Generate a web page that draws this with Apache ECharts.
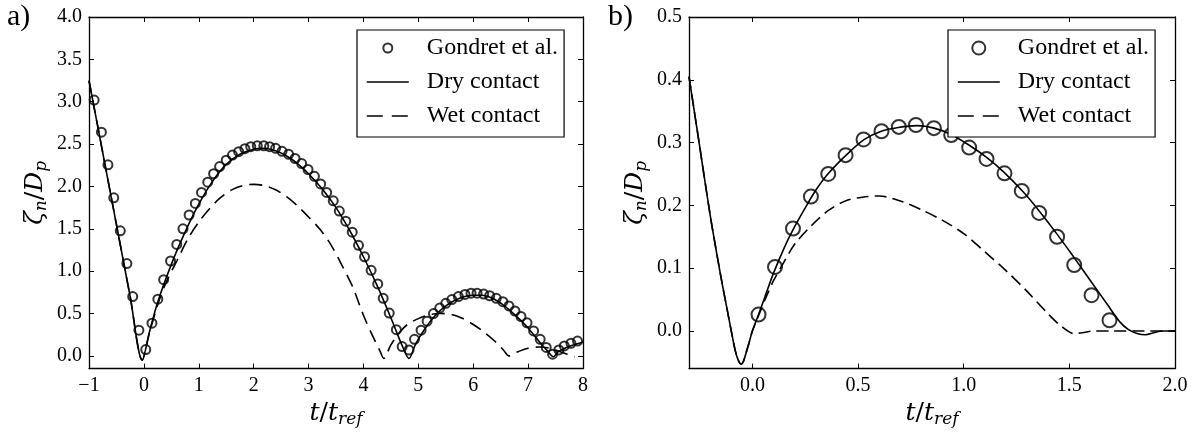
<!DOCTYPE html>
<html><head><meta charset="utf-8">
<script src="https://cdn.jsdelivr.net/npm/echarts@6/dist/echarts.min.js"></script>
<style>html,body{margin:0;padding:0;background:#fff}#c{width:1204px;height:433px}</style>
</head><body><div id="c"></div>
<script>
// ---------- data ----------
const gondretA = [[-0.906,3.02],[-0.774,2.64],[-0.655,2.255],[-0.549,1.866],[-0.43,1.476],[-0.31,1.09],[-0.204,0.70],[-0.091,0.304],[0.034,0.074],[0.147,0.386],[0.254,0.67],[0.36,0.90],[0.486,1.12],[0.599,1.316],[0.712,1.50],[0.824,1.663],[0.937,1.80],[1.05,1.93],[1.163,2.05],[1.27,2.15],[1.38,2.235],[1.50,2.31],[1.614,2.37],[1.727,2.41],[1.84,2.446],[1.947,2.47],[2.066,2.48],[2.185,2.48],[2.29,2.47],[2.40,2.45],[2.517,2.415],[2.636,2.38],[2.755,2.33],[2.875,2.27],[2.99,2.20],[3.107,2.12],[3.22,2.03],[3.33,1.93],[3.45,1.83],[3.56,1.71],[3.677,1.59],[3.796,1.46],[3.91,1.305],[4.02,1.17],[4.14,1.01],[4.26,0.85],[4.36,0.68],[4.47,0.506],[4.60,0.31],[4.705,0.11],[4.83,0.07],[4.93,0.195],[5.05,0.304],[5.16,0.41],[5.276,0.50],[5.39,0.565],[5.50,0.62],[5.61,0.665],[5.73,0.70],[5.85,0.725],[5.96,0.74],[6.07,0.74],[6.19,0.73],[6.30,0.71],[6.42,0.68],[6.54,0.64],[6.65,0.59],[6.76,0.53],[6.87,0.465],[6.98,0.39],[7.10,0.295],[7.22,0.195],[7.33,0.10],[7.445,0.02],[7.56,0.07],[7.66,0.117],[7.78,0.148],[7.90,0.175]];
const dryA = [[-1,3.25],[-0.75,2.4],[-0.5,1.55],[-0.25,0.7],[-0.03,-0.05],[0.1,0.28],[0.25,0.63],[0.5,1.08],[0.75,1.46],[1.0,1.79],[1.25,2.06],[1.5,2.26],[1.75,2.38],[2.0,2.44],[2.2,2.45],[2.4,2.42],[2.6,2.36],[2.8,2.27],[3.0,2.15],[3.25,1.97],[3.5,1.75],[3.75,1.48],[4.0,1.17],[4.25,0.83],[4.5,0.45],[4.7,0.13],[4.83,-0.03],[4.95,0.14],[5.1,0.3],[5.3,0.47],[5.5,0.59],[5.75,0.68],[6.0,0.715],[6.15,0.715],[6.35,0.68],[6.55,0.6],[6.75,0.49],[7.0,0.33],[7.2,0.17],[7.35,0.06],[7.46,-0.01],[7.55,0.05],[7.7,0.1],[7.85,0.135],[8.0,0.16]];
const wetA = [[-1,3.25],[-0.75,2.4],[-0.5,1.55],[-0.25,0.7],[-0.03,-0.05],[0.1,0.27],[0.25,0.6],[0.4,0.86],[0.6,1.12],[0.8,1.38],[1.0,1.58],[1.2,1.74],[1.4,1.87],[1.6,1.96],[1.8,2.01],[2.0,2.025],[2.2,2.01],[2.4,1.96],[2.6,1.88],[2.8,1.77],[3.0,1.64],[3.2,1.5],[3.4,1.32],[3.6,1.08],[3.8,0.82],[4.0,0.48],[4.15,0.26],[4.3,0.06],[4.37,-0.03],[4.5,0.13],[4.65,0.27],[4.8,0.37],[5.0,0.44],[5.2,0.485],[5.4,0.5],[5.6,0.49],[5.8,0.445],[6.0,0.37],[6.2,0.28],[6.4,0.17],[6.55,0.07],[6.65,0.0],[6.8,0.045],[7.0,0.09],[7.2,0.105],[7.4,0.09],[7.6,0.045],[7.8,0.0],[7.85,-0.01]];

const gondretB = [[0.029,0.026],[0.107,0.102],[0.192,0.163],[0.277,0.214],[0.359,0.250],[0.441,0.280],[0.526,0.305],[0.611,0.318],[0.693,0.325],[0.774,0.328],[0.859,0.323],[0.941,0.312],[1.026,0.292],[1.108,0.274],[1.193,0.251],[1.275,0.223],[1.357,0.188],[1.442,0.150],[1.523,0.105],[1.605,0.057],[1.690,0.017]];
const dryB = [[-0.3,0.405],[-0.25,0.295],[-0.2,0.185],[-0.15,0.088],[-0.12,0.035],[-0.1,0.0],[-0.08,-0.033],[-0.065,-0.048],[-0.053,-0.053],[-0.042,-0.048],[-0.03,-0.035],[-0.015,-0.018],[0.0,0.0],[0.03,0.027],[0.06,0.055],[0.1,0.092],[0.15,0.132],[0.2,0.166],[0.25,0.196],[0.3,0.224],[0.36,0.251],[0.45,0.282],[0.53,0.305],[0.61,0.318],[0.69,0.324],[0.78,0.327],[0.86,0.323],[0.94,0.313],[1.03,0.295],[1.11,0.276],[1.19,0.253],[1.28,0.222],[1.36,0.19],[1.44,0.155],[1.52,0.118],[1.6,0.08],[1.68,0.042],[1.74,0.014],[1.78,0.002],[1.82,-0.004],[1.86,-0.006],[1.9,-0.003],[1.94,0.0],[2.0,0.0]];
const wetB = [[-0.3,0.405],[-0.25,0.295],[-0.2,0.185],[-0.15,0.088],[-0.12,0.035],[-0.1,0.0],[-0.08,-0.033],[-0.065,-0.048],[-0.053,-0.053],[-0.042,-0.048],[-0.03,-0.035],[-0.015,-0.018],[0.0,0.0],[0.03,0.025],[0.06,0.05],[0.1,0.08],[0.15,0.11],[0.2,0.138],[0.28,0.168],[0.36,0.192],[0.44,0.207],[0.52,0.213],[0.6,0.215],[0.7,0.207],[0.8,0.193],[0.9,0.176],[1.0,0.155],[1.1,0.126],[1.2,0.096],[1.3,0.063],[1.4,0.027],[1.46,0.008],[1.52,-0.004],[1.56,-0.003],[1.62,0.0],[1.7,0.0],[2.0,0.0]];

const xTicksA = [-1,0,1,2,3,4,5,6,7,8];
const yTicksA = [0,0.5,1,1.5,2,2.5,3,3.5,4];
const xTicksB = [0,0.5,1,1.5,2];
const yTicksB = [0,0.1,0.2,0.3,0.4,0.5];
const names = ['Gondret et al.','Dry contact','Wet contact'];

// ---------- styling ----------
const SERIF = '"Liberation Serif", "DejaVu Serif", serif';
const MATH = '"DejaVu Serif", "Liberation Serif", serif';
const tickFont = {color:'#000', fontFamily: SERIF, fontSize: 20};
const minus = v => (v < 0 ? '\u2212' + Math.abs(v) : String(v));
const fix1 = v => (v < 0 ? '\u2212' + Math.abs(v).toFixed(1) : v.toFixed(1));
const axLine = {show:true, onZero:false, lineStyle:{color:'#000', width:1.3}};
const tick = (vals) => ({show:true, inside:true, length:5, lineStyle:{color:'#000', width:1}, customValues: vals});
const richName = {
  i:{fontFamily:MATH, fontStyle:'italic', fontSize:25, color:'#000'},
  r:{fontFamily:MATH, fontSize:25, color:'#000'},
  s:{fontFamily:MATH, fontStyle:'italic', fontSize:17, color:'#000', padding:[13,0,0,0]}
};
const xName = '{i|t}{r|/}{i|t}{s|ref}';
const yName = '{i|ζ}{s|n}{r|/}{i|D}{s|p}';

function xAxes(grid, min, max, interval, vals, fmt) {
  const base = {gridIndex:grid, type:'value', min, max, splitLine:{show:false}, axisLine:axLine};
  if (interval) base.interval = interval;
  return [
    Object.assign({}, base, {position:'bottom',
      axisTick: tick(vals), axisLabel:{show:true, margin:7, formatter:fmt, customValues: vals, ...tickFont},
      name:xName, nameLocation:'middle', nameGap:26, nameTextStyle:{rich:richName}}),
    Object.assign({}, base, {position:'top', axisTick: tick(vals), axisLabel:{show:false}})
  ];
}
function yAxes(grid, min, max, vals, gap) {
  const base = {gridIndex:grid, type:'value', min, max, splitLine:{show:false}, axisLine:axLine};
  return [
    Object.assign({}, base, {position:'left', axisTick: tick(vals),
      axisLabel:{show:true, margin:7, formatter:fix1, customValues: vals, ...tickFont},
      name:yName, nameLocation:'middle', nameRotate:90, nameGap:gap, nameTextStyle:{rich:richName}}),
    Object.assign({}, base, {position:'right', axisTick: tick(vals), axisLabel:{show:false}})
  ];
}

function legendFor(left, top, circle) {
  return {
    orient:'vertical', left, top, itemWidth:42, itemHeight:circle, itemGap:10,
    padding:[6,6,9,9], borderColor:'#000', borderWidth:1.2, backgroundColor:'#fff',
    selectedMode:false,
    textStyle:{fontFamily:SERIF, fontSize:24, color:'#000', lineHeight:24, padding:[0,0,0,13]},
    data:[
      {name:names[0]},
      {name:names[1], itemStyle:{color:'rgba(0,0,0,0)', borderWidth:0}, lineStyle:{width:1.6, type:'solid'}},
      {name:names[2], itemStyle:{color:'rgba(0,0,0,0)', borderWidth:0}, lineStyle:{width:1.6, type:[16,9]}}
    ]
  };
}

function scatter(name, data, xi, yi, size) {
  return {name, type:'scatter', xAxisIndex:xi, yAxisIndex:yi, data, symbol:'circle', symbolSize:size,
    symbolKeepAspect:true,
    itemStyle:{color:'rgba(0,0,0,0)', borderColor:'#000', borderWidth:2}, z:2};
}
function line(name, data, xi, yi, dash) {
  return {name, type:'line', xAxisIndex:xi, yAxisIndex:yi, data, symbol:'none', smooth:0.3,
    lineStyle:{color:'#000', width:1.6, type: dash || 'solid'}, itemStyle:{color:'#000'}, z:3};
}

const panelTitle = {fontFamily:SERIF, fontWeight:'normal', fontSize:30, color:'#000'};
const chart = echarts.init(document.getElementById('c'), null, {renderer:'canvas'});
chart.setOption({
  backgroundColor:'#fff',
  animation:false,
  title:[
    {text:'a)', left:2, top:-3, textStyle:panelTitle},
    {text:'b)', left:603, top:-3, textStyle:panelTitle}
  ],
  grid:[
    {left:89, top:17, width:494, height:353},
    {left:689, top:17, width:486, height:353}
  ],
  xAxis:[
    ...xAxes(0, -1, 8, 1, xTicksA, minus),
    ...xAxes(1, -0.3, 2, null, xTicksB, fix1)
  ],
  yAxis:[
    ...yAxes(0, -0.15, 4, yTicksA, 39),
    ...yAxes(1, -0.06, 0.5, yTicksB, 39)
  ],
  legend:[legendFor(357, 30, 9), legendFor(948, 30, 13)],
  series:[
    scatter(names[0], gondretA, 0, 0, 9),
    line(names[1], dryA, 0, 0, null),
    line(names[2], wetA, 0, 0, [13,7]),
    scatter(names[0], gondretB, 2, 2, 14),
    line(names[1], dryB, 2, 2, null),
    line(names[2], wetB, 2, 2, [12,6])
  ]
});
</script></body></html>
